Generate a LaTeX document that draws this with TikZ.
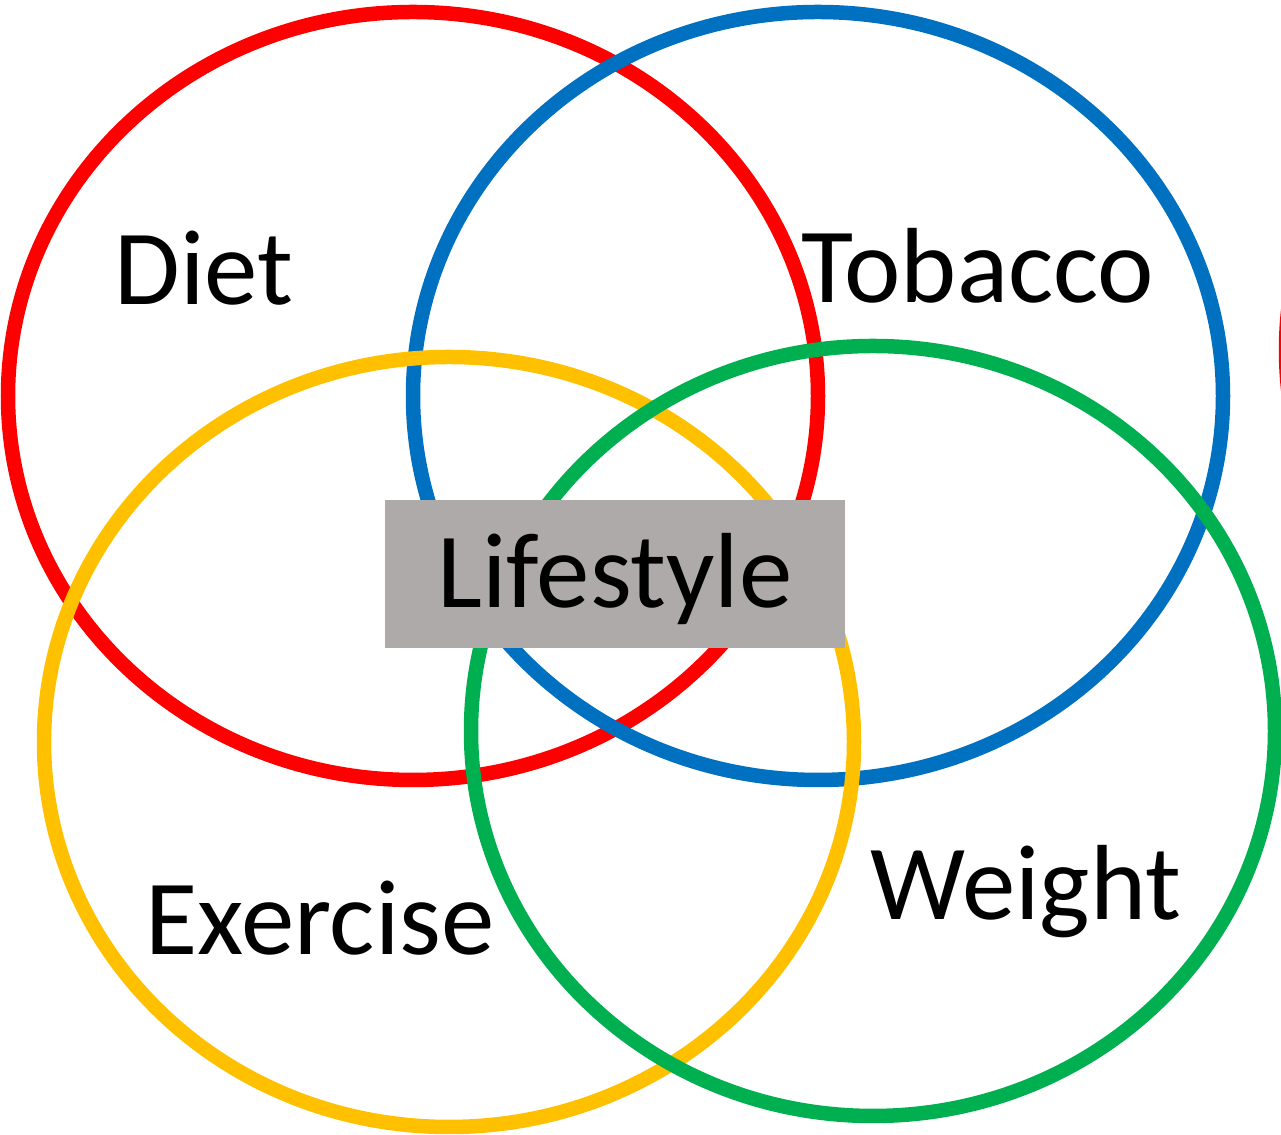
\documentclass[tikz,border=0pt]{standalone}
\usepackage{fontspec}
\setmainfont{Carlito}
\usepackage{xcolor}
\usetikzlibrary{calc}

\definecolor{dietred}{RGB}{255,0,0}
\definecolor{tobaccoblue}{RGB}{0,112,192}
\definecolor{exerciseyellow}{RGB}{255,192,0}
\definecolor{weightgreen}{RGB}{0,176,80}
\definecolor{boxgrey}{RGB}{174,170,169}

\tikzset{
  ring/.style={line width=0.145cm},
  word/.style={anchor=base,font=\fontsize{30.4}{36}\selectfont,text=black}
}

\begin{document}
\begin{tikzpicture}
  % Page
  \clip (0,0) rectangle (12.81,11.35);

  % Rings
  \draw[ring,dietred] (4.13,7.39) ellipse (4.05cm and 3.84cm);
  \draw[ring,tobaccoblue] (8.18,7.39) ellipse (4.05cm and 3.84cm);
  \draw[ring,exerciseyellow] (4.49,3.93) ellipse (4.05cm and 3.85cm);
  \draw[ring,weightgreen] (8.73,4.04) ellipse (4.02cm and 3.85cm);
  \draw[ring,dietred] (16.91,7.85) ellipse (4.05cm and 3.84cm);

  % Labels
  \node[word] (diet) at (2.04,8.30) {Diet};
  \node[word] (tobacco) at (9.78,8.32) {Tobacco};
  \node[word] (exercise) at (3.20,1.80) {Exercise};
  \node[word] (weight) at (10.26,2.15) {Weight};

  % Centre
  \fill[boxgrey] (3.85,4.87) rectangle (8.45,6.35);
  \node[word] (lifestyle) at (6.15,5.27) {Lifestyle};
\end{tikzpicture}
\end{document}
